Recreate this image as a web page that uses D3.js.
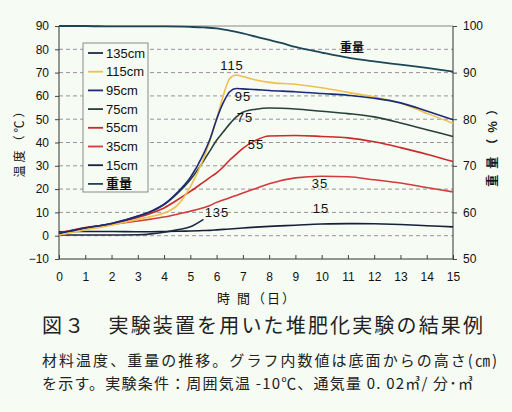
<!DOCTYPE html>
<html><head><meta charset="utf-8">
<script src="https://cdn.jsdelivr.net/npm/d3@7"></script>
<style>
html,body{margin:0;padding:0;background:#f6fbf4;}
svg{display:block;}
</style></head>
<body>
<svg id="c" width="512" height="412"></svg>
<script>
// ---- data ----
const days = [0,1,2,3,3.5,4,4.5,5,5.5,5.75,6,6.25,6.5,6.75,7,7.5,8,9,10,11,12,13,14,15];
const t135 = [0.3,0.3,0.3,0.4,0.8,1.5,2.5,3.8,7.0,null,null,null,null,null,null,null,null,null,null,null,null,null,null,null];
const t115 = [0.3,2.5,4.5,7.0,8.2,9.7,13,21,33,41,50,60,67.5,69,68.3,66.8,65.8,65,63.5,61.5,59.5,57,52.5,48.3];
const t95  = [1.0,3.3,5.2,8.4,10.5,13.5,18.5,25,35,41.5,50,57,61.8,63.2,63,62.7,62.3,61.8,61,60.3,59,57,53.5,49.8];
const t75  = [1.0,3.3,5.2,8.3,10.3,13.3,18,24,32,36.5,41,44.5,48,51,53,54.3,54.8,54.4,53.4,52.4,51,48.4,45.5,42.6];
const t55  = [1.2,3.4,5.0,7.8,9.6,11.9,15.3,19,23,25,27,29.5,32.5,35,37.5,41,42.8,43,42.6,42,40.3,37.8,35,31.8];
const t35  = [1.0,3.5,4.8,6.3,7.1,8.0,9.2,10.5,12,13,14.3,15.3,16.3,17.3,18.3,20.3,22.3,24.8,25.5,25.3,24,22.6,20.7,18.8];
const t15  = [1.7,1.8,1.8,1.7,1.7,1.8,1.9,2.0,2.2,2.3,2.5,2.7,2.9,3.1,3.3,3.7,4.0,4.5,5.0,5.2,5.1,4.8,4.3,3.8];
const wDays = [0,1,2,3,4,5,5.5,6,6.5,7,7.5,8,8.5,9,10,11,12,13,14,15];
const wVals = [100,100,99.9,99.9,99.9,99.8,99.7,99.5,99.0,98.4,97.7,97.0,96.3,95.5,94.3,93.2,92.4,91.7,91.0,90.2];
const seriesNames = ["135cm","115cm","95cm","75cm","55cm","35cm","15cm","重量"];
const seriesLabels = ["135","115","95","75","55","35","15","重量"];
const xTicks = [0,1,2,3,4,5,6,7,8,9,10,11,12,13,14,15];
const yLeftTicks = [-10,0,10,20,30,40,50,60,70,80,90];
const yRightTicks = [50,60,70,80,90,100];
const gridVals = [0,10,20,30,40,50,60,70,80];

// ---- layout ----
const L=59,R=453,T=26,B=259;
const svg=d3.select("#c");
const colors={"135cm":"#1f2a44","115cm":"#f0bf4c","95cm":"#1c2a78","75cm":"#29403a","55cm":"#cc2a2a","35cm":"#d23b3b","15cm":"#18203a","重量":"#1b4656"};
const x=d3.scaleLinear().domain([0,15]).range([L,R]);
const y=d3.scaleLinear().domain([-10,90]).range([B,T]);
const y2=d3.scaleLinear().domain([50,100]).range([B,T]);
const font="'Liberation Sans', Arial, sans-serif";
const jfont="'Noto Sans CJK JP', sans-serif";

svg.append("rect").attr("width",512).attr("height",412).attr("fill","#f6fbf4");

// grid
svg.append("g").selectAll("line").data(gridVals).join("line")
  .attr("x1",L).attr("x2",R).attr("y1",d=>y(d)).attr("y2",d=>y(d))
  .attr("stroke","#9d919d").attr("stroke-width",1).attr("stroke-dasharray","4,3");

// axes
const ax=d3.axisBottom(x).tickValues(xTicks).tickSizeInner(-4).tickSizeOuter(0).tickPadding(13).tickFormat(d3.format("d"));
const gx=svg.append("g").attr("transform",`translate(0,${B})`).call(ax);
const ayl=d3.axisLeft(y).tickValues(yLeftTicks).tickSize(4).tickPadding(6);
const gyl=svg.append("g").attr("transform",`translate(${L},0)`).call(ayl);
const ayr=d3.axisRight(y2).tickValues(yRightTicks).tickSize(4).tickPadding(6);
const gyr=svg.append("g").attr("transform",`translate(${R},0)`).call(ayr);
[gx,gyl,gyr].forEach(g=>{
  g.select(".domain").remove();
  g.selectAll(".tick line").attr("stroke","#444");
  g.selectAll("text").attr("font-family",font).attr("font-size",12).attr("fill","#111");
});
// frame
svg.append("line").attr("x1",L).attr("x2",L).attr("y1",T).attr("y2",B).attr("stroke","#333");
svg.append("line").attr("x1",L).attr("x2",R).attr("y1",B).attr("y2",B).attr("stroke","#333");
svg.append("line").attr("x1",R).attr("x2",R).attr("y1",T).attr("y2",B).attr("stroke","#333");
svg.append("line").attr("x1",L).attr("x2",R).attr("y1",T).attr("y2",T).attr("stroke","#888");

// lines
const tempData=[t135,t115,t95,t75,t55,t35,t15];
const line=d3.line().defined(d=>d[1]!=null).x(d=>x(d[0])).y(d=>y(d[1])).curve(d3.curveMonotoneX);
const drawOrder=[6,5,4,0,3,1,2];
drawOrder.forEach(i=>{
  const pts=days.map((d,j)=>[d,tempData[i][j]]);
  svg.append("path").datum(pts).attr("d",line).attr("fill","none")
    .attr("stroke",colors[seriesNames[i]]).attr("stroke-width",1.6);
});
const wline=d3.line().x(d=>x(d[0])).y(d=>y2(d[1])).curve(d3.curveMonotoneX);
svg.append("path").datum(wDays.map((d,j)=>[d,wVals[j]])).attr("d",wline).attr("fill","none")
  .attr("stroke",colors["重量"]).attr("stroke-width",1.8);

// in-chart labels
const labelPos=[[217,217],[232,70],[243,101],[245,122],[256,149],[320,188],[321,213],[352,52]];
seriesLabels.forEach((t,i)=>{
  svg.append("text").attr("x",labelPos[i][0]).attr("y",labelPos[i][1]).attr("text-anchor","middle")
    .attr("font-family",i===7?jfont:font).attr("font-size",i===7?12:13).attr("font-weight",i===7?"bold":"normal")
    .attr("fill","#111").attr("letter-spacing",i===7?0:1).text(t);
});

// legend
const lg=svg.append("g");
lg.append("rect").attr("x",83).attr("y",43).attr("width",65).attr("height",149)
  .attr("fill","#f6fbf4").attr("stroke","#8a8a8a").attr("stroke-width",1);
seriesNames.forEach((n,i)=>{
  const cy=53+i*18.7;
  lg.append("line").attr("x1",88).attr("x2",103).attr("y1",cy).attr("y2",cy)
    .attr("stroke",colors[n]).attr("stroke-width",1.8);
  lg.append("text").attr("x",106).attr("y",cy+4.5).attr("font-family",i===7?jfont:font)
    .attr("font-size",13).attr("font-weight",i===7?"bold":"normal").attr("fill","#111").text(n);
});

// axis titles
svg.append("text").attr("transform","translate(24,140) rotate(-90)").attr("text-anchor","middle")
  .attr("font-family",jfont).attr("font-size",12).attr("letter-spacing",3).attr("fill","#111").text("温度（℃）");
svg.append("text").attr("transform","translate(497,142) rotate(-90)").attr("text-anchor","middle")
  .attr("font-family",jfont).attr("font-size",12).attr("letter-spacing",6).attr("font-weight","bold").attr("fill","#111").text("重量（%）");
svg.append("text").attr("x",257).attr("y",303).attr("text-anchor","middle")
  .attr("font-family",jfont).attr("font-size",13).attr("letter-spacing",2).attr("fill","#111").text("時 間（日）");

// captions
svg.append("text").attr("x",42).attr("y",333).attr("font-family",jfont).attr("font-size",20)
  .attr("textLength",441).attr("lengthAdjust","spacing").attr("fill","#222").text("図３　実験装置を用いた堆肥化実験の結果例");
svg.append("text").attr("x",42).attr("y",366).attr("font-family",jfont).attr("font-size",15)
  .attr("textLength",455).attr("lengthAdjust","spacing").attr("fill","#222").text("材料温度、重量の推移。グラフ内数値は底面からの高さ(㎝)");
svg.append("text").attr("x",42).attr("y",389).attr("font-family",jfont).attr("font-size",15)
  .attr("textLength",431).attr("lengthAdjust","spacing").attr("fill","#222").text("を示す。実験条件：周囲気温 -10℃、通気量 0. 02㎥/ 分･㎥");
</script>
</body></html>
